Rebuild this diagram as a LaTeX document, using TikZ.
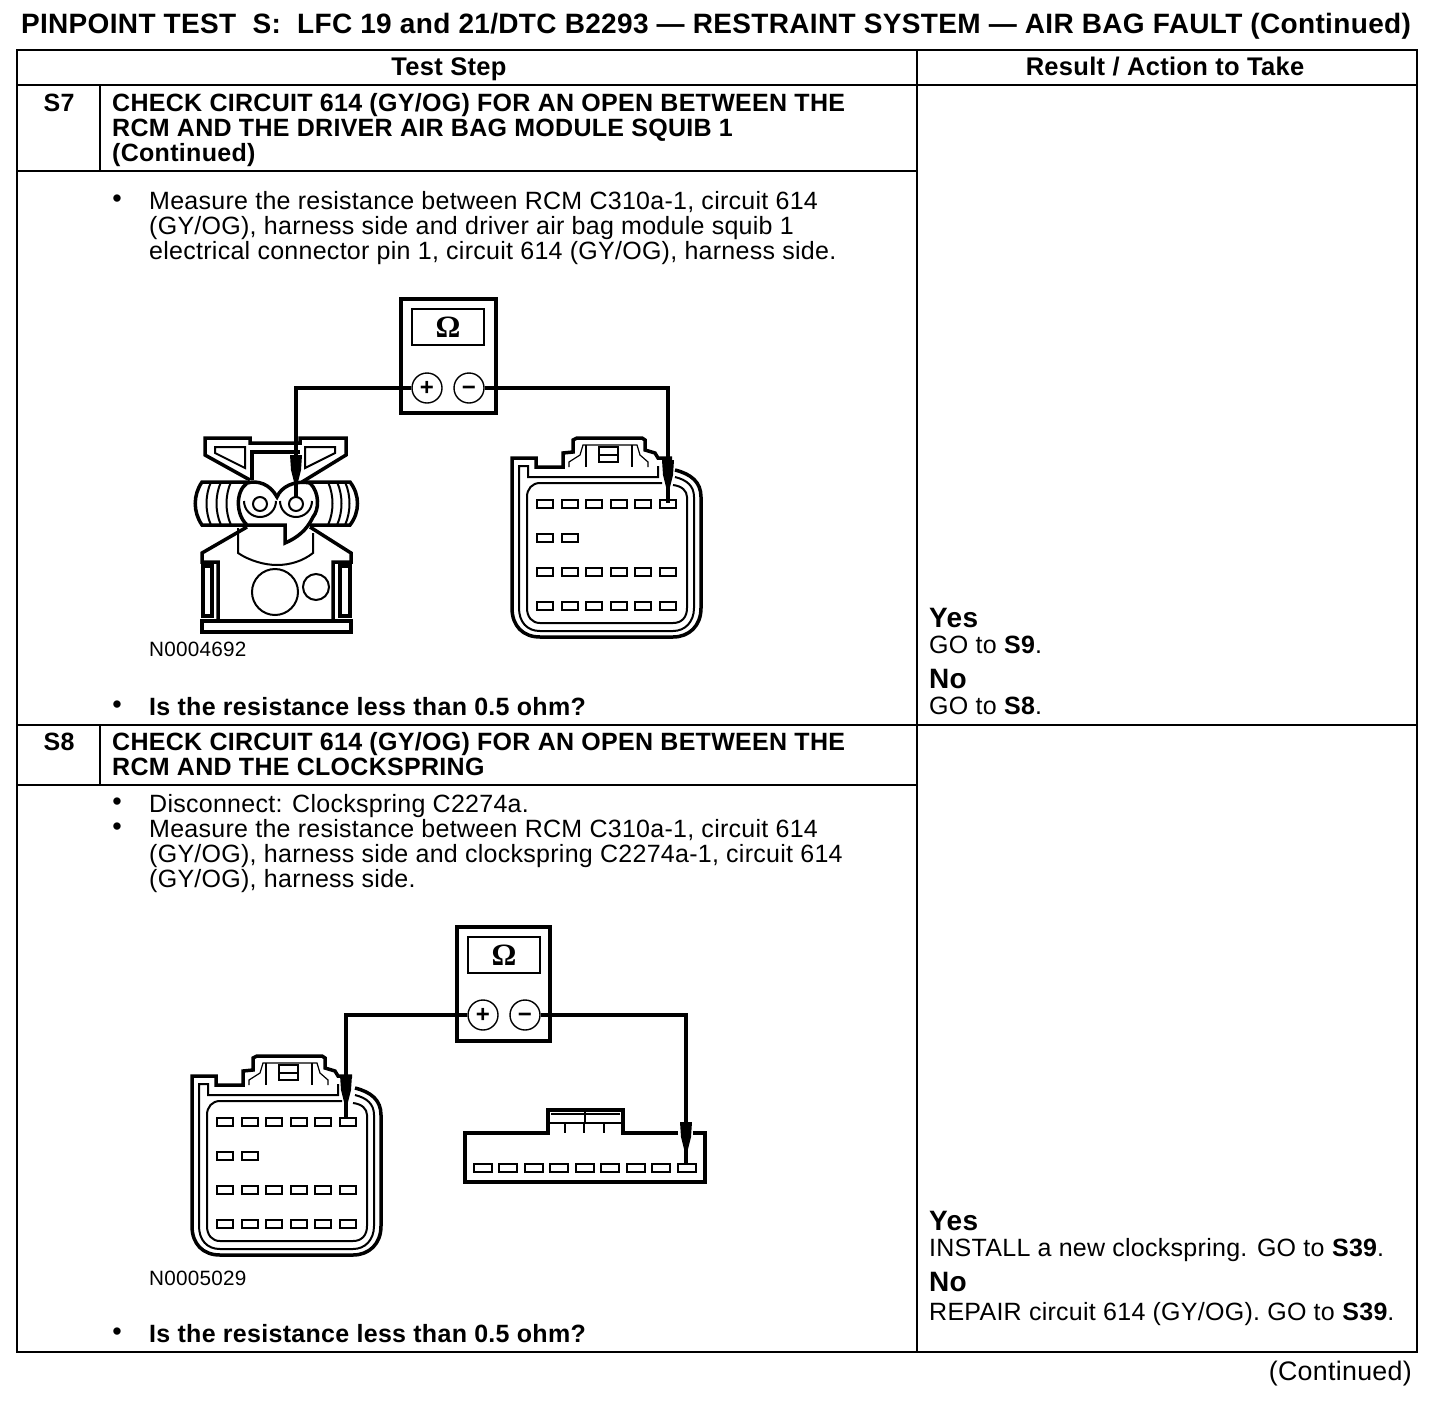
\documentclass[tikz,border=0pt]{standalone}
\usepackage{fontspec}
\setmainfont[LetterSpace=1.1,BoldFeatures={LetterSpace=1.2}]{Liberation Sans}
\newfontfamily\omfont{Liberation Serif}
\tikzset{
  txt/.style={inner sep=0pt, anchor=north west, align=left, font=\fontsize{25}{25}\selectfont},
  big/.style={txt, font=\fontsize{28}{28}\selectfont\bfseries},
  hdr/.style={txt, font=\fontsize{25}{25}\selectfont\bfseries},
  code/.style={txt, font=\fontsize{20.7}{20.7}\selectfont},
  dot/.style={inner sep=0pt, anchor=center, font=\fontsize{27}{27}\selectfont},
  rule/.style={line width=2.3pt},
  meter/.style={rectangle, draw, line width=4pt, minimum width=95pt, minimum height=114pt, inner sep=0pt},
  display/.style={rectangle, draw, line width=2pt, minimum width=72pt, minimum height=36pt, inner sep=0pt, font=\omfont\fontsize{31}{31}\selectfont\bfseries},
  jack/.style={circle, draw, fill=white, line width=1.4pt, minimum size=30pt, inner sep=0pt, text height=15.4pt, text depth=0pt, font=\fontsize{24}{24}\selectfont\bfseries},
  lead/.style={line width=4pt},
  heavy/.style={line width=3.5pt},
  mid/.style={line width=2pt},
  pin/.style={line width=1.7pt},
  fine/.style={line width=1.2pt},
  probe/.pic={
    \fill (-6,-43) -- (6,-43) -- (5,-28) -- (1.5,-14) -- (-1.5,-14) -- (-5,-28) -- cycle;
    \draw[line width=1.2pt] (0,-16) -- (0,0);
  },
  rcmconn/.pic={
    \draw[heavy] (164,12) .. controls (180,16) and (190,24) .. (190,39) -- (190,150)
      .. controls (190,168) and (178,179) .. (162,179) -- (29,179)
      .. controls (12,179) and (1,168) .. (1,150) -- (1,0) -- (25,0) -- (25,9) -- (52,9)
      -- (52,-5) -- (62,-6) -- (62,-18) -- (66,-20) -- (131,-20) -- (134,-18) -- (134,-8)
      -- (144,-5) -- (147,0) -- (161,0);
    \draw[mid] (164,19) .. controls (176,22) and (183,28) .. (183,39) -- (183,150)
      .. controls (183,164) and (174,173) .. (162,173) -- (29,173)
      .. controls (16,173) and (8,164) .. (8,150) -- (8,8) -- (17,8) -- (17,19) -- (147,19) -- (147,8);
    \draw[mid] (151,25) -- (29,25) .. controls (21,25) and (16,31) .. (16,39) -- (16,150)
      .. controls (16,159) and (21,165) .. (29,165) -- (162,165)
      .. controls (171,165) and (176,159) .. (176,150) -- (176,39) .. controls (176,33) and (171,28) .. (162,27);
    \draw[fine] (58,9) -- (58,4) -- (69,-3) -- (72,-13) -- (126,-13) -- (129,-3) -- (137,4) -- (137,9);
    \draw[fine] (75,-13) -- (75,9) (121,-13) -- (121,9);
    \draw[mid] (88,-11) rectangle (107,4) (88,-3) -- (107,-3);
    \foreach \px in {34,59,83,108,132,157}
      \foreach \py in {46,114,148}
        \draw[pin] (\px-8,\py-4) rectangle (\px+8,\py+4);
    \foreach \px in {34,59}
      \draw[pin] (\px-8,76) rectangle (\px+8,84);
  }
}
\begin{document}
\begin{tikzpicture}[x=1pt,y=-1pt]
\useasboundingbox (0,0) rectangle (1456,1400);

% title and table
\node[hdr, font=\fontsize{28}{28}\selectfont\bfseries, anchor=north] (title) at (716,13) {PINPOINT TEST\ \ S:\ \ LFC 19 and 21/DTC B2293 --- RESTRAINT SYSTEM --- AIR BAG FAULT (Continued)};
\draw[rule] (17,50) rectangle (1417,1352);
\draw[rule] (917,50) -- (917,1352);
\draw[rule] (17,85) -- (1417,85);
\draw[rule] (100,85) -- (100,171);
\draw[rule] (17,171) -- (917,171);
\draw[rule] (17,725) -- (1417,725);
\draw[rule] (100,725) -- (100,785);
\draw[rule] (17,785) -- (917,785);
\node[hdr, font=\fontsize{25.5}{25.5}\selectfont\bfseries, anchor=base] (stephead) at (449,75) {Test Step};
\node[hdr, font=\fontsize{25.5}{25.5}\selectfont\bfseries, anchor=base] (resulthead) at (1165,75) {Result / Action to Take};

% S7
\node[hdr, anchor=base] (s7) at (59,111) {S7};
\node[hdr] (s7title) at (112,93) {CHECK CIRCUIT 614 (GY/OG) FOR AN OPEN BETWEEN THE\\RCM AND THE DRIVER AIR BAG MODULE SQUIB 1\\(Continued)};
\node[dot] (s7bulA) at (117,201) {•};
\node[txt] (s7meas) at (149,191.5) {Measure the resistance between RCM C310a-1, circuit 614\\(GY/OG), harness side and driver air bag module squib 1\\electrical connector pin 1, circuit 614 (GY/OG), harness side.};
\node[code] (s7code) at (149,642) {N0004692};
\node[dot] (s7bulB) at (117,707) {•};
\node[hdr] (s7ask) at (149,697) {Is the resistance less than 0.5 ohm?};
\node[big] (s7yes) at (929,608) {Yes};
\node[txt] (s7go) at (929,636) {GO to \textbf{S9}.};
\node[big] (s7no) at (929,669) {No};
\node[txt] (s7nogo) at (929,697) {GO to \textbf{S8}.};

% S7 clockspring side connector
\draw[heavy, fill=white] (250,480) -- (205,455) -- (205,438) -- (250,438) -- (250,443) -- (300,443) -- (300,438) -- (346,438) -- (346,455) -- (302,482);
\draw[mid] (215,447) -- (245,447) -- (245,468) -- (215,453) -- cycle;
\draw[mid] (305,447) -- (335,447) -- (335,453) -- (305,468) -- cycle;
\draw[heavy] (252,480) -- (252,452) -- (300,452);
\draw[heavy] (247,482) -- (202,482) .. controls (193,495) and (193,512) .. (202,525) -- (247,525);
\draw[heavy] (302,482) -- (350,482) .. controls (360,495) and (360,512) .. (350,525) -- (310,525);
\foreach \rx in {211,221,231}
  \draw[mid] (\rx,482) .. controls (\rx-6,495) and (\rx-6,512) .. (\rx,525);
\foreach \rx in {328,337,345}
  \draw[mid] (\rx,482) .. controls (\rx+6,495) and (\rx+6,512) .. (\rx,525);
\draw[heavy, fill=white] (247,525) .. controls (236,515) and (235,492) .. (247,483) .. controls (258,480) and (270,484) .. (277,497)
  .. controls (281,487) and (294,480) .. (310,483) .. controls (320,493) and (319,510) .. (313,517)
  .. controls (307,530) and (297,538) .. (285,543) -- (285,525) -- cycle;
\draw[mid] (260,504) circle (7) (296,504) circle (7);
\draw[mid] (244,501) arc (180:0:16);
\draw[mid] (280,501) arc (180:0:16);
\draw[heavy] (247,527) -- (202,553) -- (202,562) -- (218,562) -- (218,620);
\draw[heavy] (310,527) -- (351,553) -- (351,562) -- (333,562) -- (333,620);
\draw[mid] (238,528) -- (238,553) .. controls (250,561) and (265,565) .. (277,565) .. controls (290,565) and (303,561) .. (313,553) -- (313,533);
\draw[heavy] (203,566) rectangle (212,616);
\draw[heavy] (340,566) rectangle (350,616);
\draw[heavy] (202,621) rectangle (351,632);
\draw[mid] (275,592) circle (23) (316,587) circle (13);

% S7 meter
\node[meter] (meterA) at (448,356) {};
\node[display] (dispA) at (448,327) {Ω};
\node[jack] (plusA) at (427,388) {+};
\node[jack] (minusA) at (469,388) {−};
\coordinate (tipA) at (296,498);
\coordinate (tipB) at (668,503);
\pic at (511,458) {rcmconn};
\draw[lead] (plusA) -| (tipA);
\draw[lead] (minusA) -| (tipB);
\pic at (296,498) {probe};
\pic at (668,503) {probe};

% S8
\node[hdr, anchor=base] (s8) at (59,750) {S8};
\node[hdr] (s8title) at (112,732) {CHECK CIRCUIT 614 (GY/OG) FOR AN OPEN BETWEEN THE\\RCM AND THE CLOCKSPRING};
\node[dot] (s8bulA) at (117,804) {•};
\node[txt] (s8disc) at (149,794) {Disconnect: Clockspring C2274a.};
\node[dot] (s8bulB) at (117,829) {•};
\node[txt] (s8meas) at (149,819) {Measure the resistance between RCM C310a-1, circuit 614\\(GY/OG), harness side and clockspring C2274a-1, circuit 614\\(GY/OG), harness side.};
\node[code] (s8code) at (149,1271) {N0005029};
\node[dot] (s8bulC) at (117,1334) {•};
\node[hdr] (s8ask) at (149,1324) {Is the resistance less than 0.5 ohm?};
\node[big] (s8yes) at (929,1211) {Yes};
\node[txt] (s8go) at (929,1238) {INSTALL a new clockspring. GO to \textbf{S39}.};
\node[big] (s8no) at (929,1272) {No};
\node[txt] (s8nogo) at (929,1302) {REPAIR circuit 614 (GY/OG). GO to \textbf{S39}.};
\node[txt, font=\fontsize{26.8}{27}\selectfont, anchor=north east] (contd) at (1412,1361) {(Continued)};

% S8 clockspring connector
\draw[heavy] (678,1133) -- (623,1133) -- (623,1110) -- (548,1110) -- (548,1133) -- (465,1133) -- (465,1182) -- (705,1182) -- (705,1133) -- (693,1133);
\draw[fine] (551,1114) -- (620,1114);
\draw[mid] (548,1123) -- (623,1123);
\draw[mid] (585,1110) -- (585,1123);
\draw[mid] (565,1123) -- (565,1133) (584,1123) -- (584,1133) (604,1123) -- (604,1133);
\foreach \px in {483,508,534,559,585,610,636,661,687}
  \draw[pin] (\px-9,1164) rectangle (\px+9,1172);

% S8 meter
\node[meter, minimum width=93pt] (meterB) at (503.5,984) {};
\node[display] (dispB) at (504,955) {Ω};
\node[jack] (plusB) at (483,1015) {+};
\node[jack] (minusB) at (525,1015) {−};
\coordinate (tipC) at (346,1118);
\coordinate (tipD) at (686,1165);
\pic at (191,1076) {rcmconn};
\draw[lead] (plusB) -| (tipC);
\draw[lead] (minusB) -| (tipD);
\pic at (346,1118) {probe};
\pic at (686,1165) {probe};
\end{tikzpicture}
\end{document}
